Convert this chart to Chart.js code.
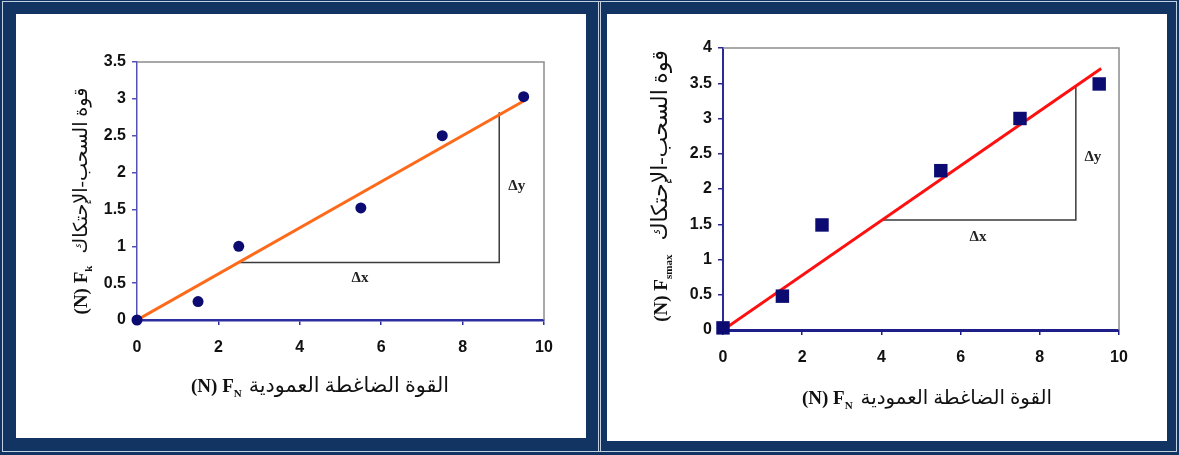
<!DOCTYPE html>
<html>
<head>
<meta charset="utf-8">
<script src="https://cdn.jsdelivr.net/npm/chart.js"></script>
<style>
html, body { margin: 0; padding: 0; }
body { width: 1179px; height: 455px; background: #113463; position: relative; overflow: hidden; }
.edge { position: absolute; border: 1px solid #c3d1e2; box-sizing: border-box; }
.panel { position: absolute; background: #fff; }
canvas { display: block; }
</style>
</head>
<body>
<div class="edge" style="left:2px;top:1px;width:1175px;height:451px"></div>
<div class="edge" style="left:598px;top:1px;width:3px;height:451px;border-width:0 1px"></div>
<div class="panel" style="left:16px;top:14px;width:570px;height:424px"><canvas id="chartK" width="570" height="424"></canvas></div>
<div class="panel" style="left:607px;top:14px;width:560px;height:427px"><canvas id="chartS" width="560" height="427"></canvas></div>
<script>
// tick values
const xTicks = [0, 2, 4, 6, 8, 10];
const yTicksK = [0, 0.5, 1, 1.5, 2, 2.5, 3, 3.5];
const yTicksS = [0, 0.5, 1, 1.5, 2, 2.5, 3, 3.5, 4];

// measured points
const fnK = [0, 1.5, 2.5, 5.5, 7.5, 9.5];
const fkValues = [0, 0.25, 1.0, 1.52, 2.5, 3.03];
const fnS = [0, 1.5, 2.5, 5.5, 7.5, 9.5];
const fsmaxValues = [0.03, 0.48, 1.49, 2.26, 3.0, 3.49];

// trend lines (through origin)
const trendKx = [0, 9.5];
const trendKy = [0, 2.97];
const trendSx = [0, 9.55];
const trendSy = [0, 3.71];

// slope triangles
const triKx = [2.52, 8.9, 8.9];
const triKy = [0.78, 0.78, 2.82];
const triSx = [4.01, 8.91, 8.91];
const triSy = [1.56, 1.56, 3.46];

// delta labels
const deltaNames = ["Δx", "Δy"];
const deltaKx = [5.48, 9.33];
const deltaKy = [0.57, 1.82];
const deltaSx = [6.44, 9.34];
const deltaSy = [1.32, 2.45];

const xTitleAr = "القوة الضاغطة العمودية";
const yTitleAr = "قوة السحب-الإحتكاك";

const pts = (xs, ys) => xs.map((x, i) => ({ x: x, y: ys[i] }));

const latin = 'bold 19px "Liberation Serif", "Times New Roman", serif';
const sub = 'bold 11px "Liberation Serif", serif';
const arabic = (px) => px + 'px "Liberation Serif", "DejaVu Sans", serif';
const tickFont = { family: '"Liberation Sans", Arial, sans-serif', size: 16, weight: 'bold' };

function drawRun(ctx, parts, cx, cy, rot) {
    ctx.save();
    ctx.translate(cx, cy);
    ctx.rotate(rot);
    ctx.textAlign = "left";
    ctx.textBaseline = "alphabetic";
    ctx.fillStyle = "#111";
    let total = 0;
    parts.forEach((p) => {
        ctx.font = p.font;
        if (p.fit) {
            ctx.font = arabic(20);
            const w0 = ctx.measureText(p.text).width;
            const size = Math.min(22, 20 * p.fit / w0);
            p.font = arabic(size.toFixed(1));
            ctx.font = p.font;
        }
        p.w = ctx.measureText(p.text).width;
        total += p.w + (p.gap || 0);
    });
    let x = -total / 2;
    parts.forEach((p) => {
        ctx.font = p.font;
        ctx.fillText(p.text, x, p.dy || 0);
        x += p.w + (p.gap || 0);
    });
    ctx.restore();
}

const decor = {
    id: "decor",
    beforeDatasetsDraw(chart) {
        const { ctx, chartArea: a } = chart;
        ctx.save();
        ctx.strokeStyle = "#8c8c8c";
        ctx.lineWidth = 1.5;
        ctx.beginPath();
        ctx.moveTo(a.left, a.top);
        ctx.lineTo(a.right, a.top);
        ctx.lineTo(a.right, a.bottom);
        ctx.stroke();
        ctx.restore();
    },
    afterDraw(chart, args, o) {
        const { ctx, scales } = chart;
        ctx.save();
        ctx.font = 'bold 15px "Liberation Serif", serif';
        ctx.fillStyle = "#222";
        ctx.textAlign = "center";
        ctx.textBaseline = "middle";
        deltaNames.forEach((t, i) => {
            ctx.fillText(t, scales.x.getPixelForValue(o.dx[i]), scales.y.getPixelForValue(o.dy[i]));
        });
        ctx.restore();
        drawRun(ctx, o.xTitle, o.xPos[0], o.xPos[1], 0);
        drawRun(ctx, o.yTitle, o.yPos[0], o.yPos[1], -Math.PI / 2);
    },
};

function makeChart(id, cfg) {
    new Chart(document.getElementById(id), {
        type: "scatter",
        data: {
            datasets: [
                {
                    data: pts(cfg.px, cfg.py),
                    pointStyle: cfg.pointStyle,
                    pointRadius: cfg.pointRadius,
                    backgroundColor: "#0b0b72",
                    borderColor: "#0b0b72",
                    borderWidth: 0,
                    clip: false,
                    order: 0,
                },
                {
                    type: "line",
                    data: pts(cfg.tx, cfg.ty),
                    borderColor: cfg.trendColor,
                    borderWidth: 3,
                    pointRadius: 0,
                    fill: false,
                    order: 1,
                },
                {
                    type: "line",
                    data: pts(cfg.trx, cfg.try_),
                    borderColor: "#3a3a3a",
                    borderWidth: 1.5,
                    pointRadius: 0,
                    fill: false,
                    tension: 0,
                    order: 2,
                },
            ],
        },
        options: {
            responsive: false,
            animation: false,
            events: [],
            layout: { padding: { left: 0, top: cfg.top, right: cfg.right, bottom: 0 } },
            scales: {
                x: {
                    type: "linear",
                    min: 0,
                    max: 10,
                    afterBuildTicks: (s) => { s.ticks = xTicks.map((v) => ({ value: v })); },
                    afterFit: (s) => { s.height = cfg.xh; },
                    ticks: { font: tickFont, color: "#111", padding: 13, callback: (v) => String(v) },
                    grid: { drawOnChartArea: false, tickLength: 5, color: cfg.xAxisColor, lineWidth: 1.5 },
                    border: { color: cfg.xAxisColor, width: cfg.xAxisWidth },
                },
                y: {
                    min: 0,
                    max: cfg.yMax,
                    afterBuildTicks: (s) => { s.ticks = cfg.yTicks.map((v) => ({ value: v })); },
                    afterFit: (s) => { s.width = cfg.yw; },
                    ticks: { font: tickFont, color: "#111", padding: 6, callback: (v) => String(v) },
                    grid: { drawOnChartArea: false, tickLength: 5, color: cfg.yAxisColor, lineWidth: 1.5 },
                    border: { color: cfg.yAxisColor, width: cfg.yAxisWidth },
                },
            },
            plugins: {
                legend: { display: false },
                tooltip: { enabled: false },
                decor: {
                    dx: cfg.dx,
                    dy: cfg.dy,
                    xTitle: cfg.xTitle,
                    yTitle: cfg.yTitle,
                    xPos: cfg.xPos,
                    yPos: cfg.yPos,
                },
            },
        },
        plugins: [decor],
    });
}

makeChart("chartK", {
    px: fnK, py: fkValues, pointStyle: "circle", pointRadius: 5.5,
    tx: trendKx, ty: trendKy, trendColor: "#ff6a1a",
    trx: triKx, try_: triKy,
    dx: deltaKx, dy: deltaKy,
    yMax: 3.5, yTicks: yTicksK,
    top: 48, right: 42, yw: 121, xh: 118,
    xAxisColor: "#2d2da0", xAxisWidth: 2.5, yAxisColor: "#5252b4", yAxisWidth: 1.5,
    xPos: [304, 378],
    yPos: [71, 187],
    xTitle: [
        { text: "(N) F", font: latin },
        { text: "N", font: sub, dy: 5, gap: 7 },
        { text: xTitleAr, fit: 200, font: arabic(20) },
    ],
    yTitle: [
        { text: "(N) F", font: latin },
        { text: "k", font: sub, dy: 5, gap: 12 },
        { text: yTitleAr, fit: 166, font: arabic(16) },
    ],
});

makeChart("chartS", {
    px: fnS, py: fsmaxValues, pointStyle: "rect", pointRadius: 9.5,
    tx: trendSx, ty: trendSy, trendColor: "#ff1010",
    trx: triSx, try_: triSy,
    dx: deltaSx, dy: deltaSy,
    yMax: 4, yTicks: yTicksS,
    top: 34, right: 48, yw: 116, xh: 111,
    xAxisColor: "#1e1e8a", xAxisWidth: 3, yAxisColor: "#2a2a96", yAxisWidth: 2,
    xPos: [320, 390],
    yPos: [60, 172],
    xTitle: [
        { text: "(N) F", font: latin },
        { text: "N", font: sub, dy: 5, gap: 8 },
        { text: xTitleAr, fit: 192, font: arabic(20) },
    ],
    yTitle: [
        { text: "(N) F", font: latin },
        { text: "smax", font: sub, dy: 5, gap: 14 },
        { text: yTitleAr, fit: 190, font: arabic(16) },
    ],
});
</script>
</body>
</html>
